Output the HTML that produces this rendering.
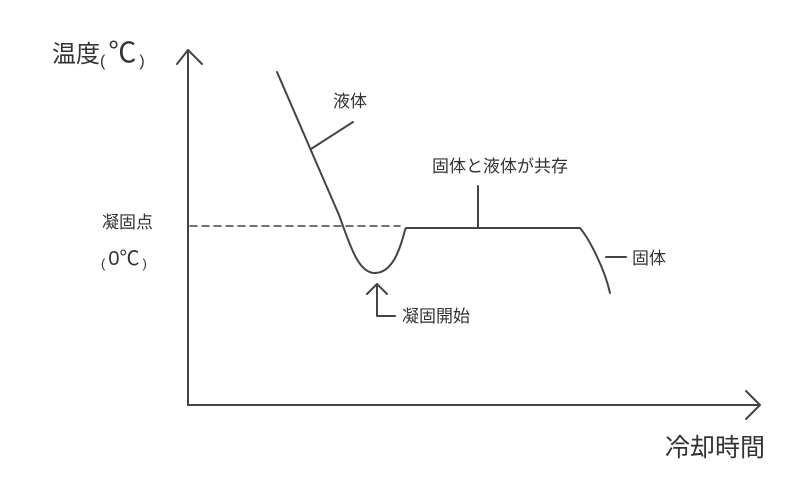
<!DOCTYPE html>
<html><head><meta charset="utf-8"><style>
html,body{margin:0;padding:0;background:#fff;}
svg{display:block;}
text{font-family:"Liberation Sans","Noto Sans CJK JP",sans-serif;fill:#333;}
</style></head><body>
<svg width="790" height="480" viewBox="0 0 790 480" xmlns="http://www.w3.org/2000/svg">
<g stroke="#444" stroke-width="2" fill="none" stroke-linecap="round" stroke-linejoin="round">
<line x1="188" y1="50" x2="188" y2="405"/>
<polyline points="177,64 188,50 202,64"/>
<line x1="188" y1="405" x2="758" y2="405"/>
<polyline points="746,391 760,405 746,419"/>
<line x1="190" y1="226" x2="400" y2="226" stroke-dasharray="7,5" stroke-width="1.5"/>
<path d="M277,72 L339,215 C350,245 358,273 375,273 C392,273 400,250 405,230 L406,228 L580,228 C590,240 605,270 610,293"/>
<line x1="311" y1="149" x2="353" y2="122"/>
<line x1="478" y1="186" x2="478" y2="228"/>
<line x1="606" y1="257" x2="626" y2="257"/>
<polyline points="367,294 377,284 387,294"/>
<polyline points="377,285 377,316 395,316"/>
</g>
<text x="52" y="62" font-size="24">温度<tspan font-size="16" dy="4">(</tspan><tspan dx="3" dy="-4" font-size="28">℃</tspan><tspan dx="3" font-size="16" dy="4">)</tspan></text>
<text x="102" y="228" font-size="17">凝固点</text>
<text x="101" y="265" font-size="17"><tspan font-size="13" dy="3">(</tspan><tspan dx="3" dy="-3" font-size="20">0℃</tspan><tspan dx="3" font-size="13" dy="3">)</tspan></text>
<text x="333" y="107" font-size="17">液体</text>
<text x="432" y="172" font-size="17">固体と液体が共存</text>
<text x="632" y="264" font-size="17">固体</text>
<text x="402" y="322" font-size="17">凝固開始</text>
<text x="665" y="456" font-size="25">冷却時間</text>
</svg>
</body></html>
